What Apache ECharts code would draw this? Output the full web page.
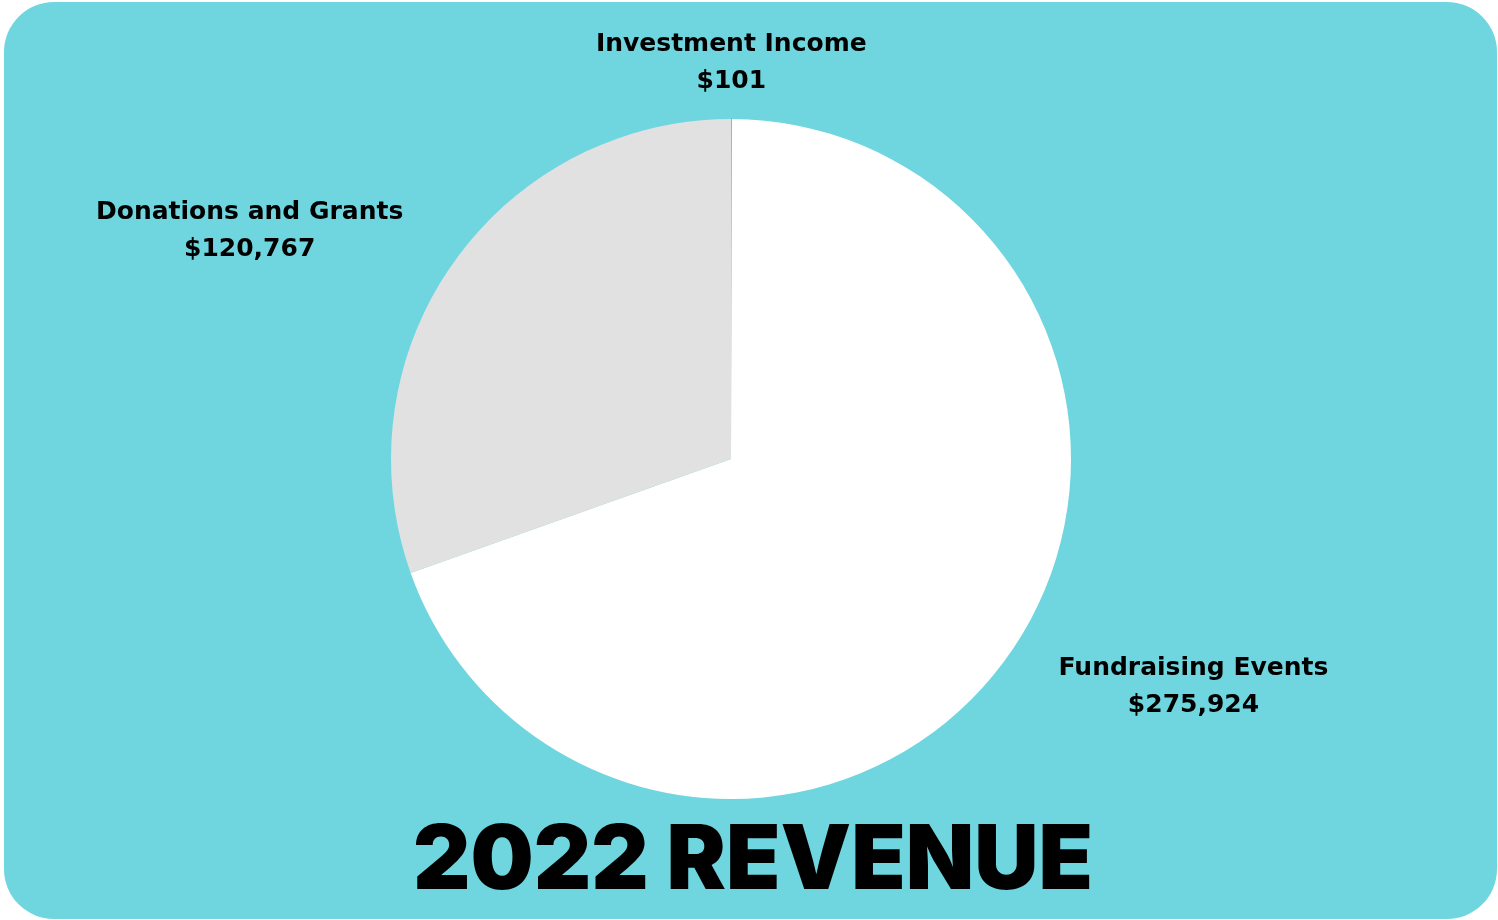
<!DOCTYPE html>
<html>
<head>
<meta charset="utf-8">
<script src="https://cdn.jsdelivr.net/npm/echarts@6/dist/echarts.min.js"></script>
<style>
html,body{margin:0;padding:0;background:#ffffff;}
#chart{width:1498px;height:920px;}
</style>
</head>
<body>
<div id="chart"></div>
<script>
const categories = ['Investment Income', 'Fundraising Events', 'Donations and Grants'];
const values = [101, 275924, 120767];
const valueLabels = ['$101', '$275,924', '$120,767'];
const sliceColors = ['#5a5a5a', '#ffffff', '#e1e1e1'];
const titleText = '2022 REVENUE';

const chart = echarts.init(document.getElementById('chart'), null, {renderer: 'canvas'});
const data = categories.map((c, i) => ({
  name: c,
  value: values[i],
  itemStyle: i === 0 ? {color: sliceColors[i], borderColor: sliceColors[i], borderWidth: 0.6} : {color: sliceColors[i]}
}));

chart.setOption({
  animation: false,
  graphic: [{
    type: 'rect', z: -10, silent: true,
    shape: {x: 4, y: 2, width: 1493, height: 917, r: 50},
    style: {fill: '#6fd6e0'}
  }],
  title: {
    text: titleText,
    left: 748, top: 813, textAlign: 'center',
    textStyle: {fontFamily: 'Inter', fontWeight: 900, fontSize: 89, color: '#000000'}
  },
  series: [{
    type: 'pie',
    center: [731, 459],
    radius: [0, 340],
    startAngle: 90,
    clockwise: true,
    data: data,
    emphasis: {disabled: true},
    label: {
      show: true,
      position: 'outside',
      alignTo: 'none',
      formatter: p => p.name + '\n' + valueLabels[p.dataIndex],
      fontFamily: 'DejaVu Sans',
      fontWeight: 'bold',
      fontSize: 25,
      lineHeight: 37,
      color: '#000000'
    },
    labelLine: {show: false, length: 55, length2: 0},
    labelLayout: function (p) {
      if (p.dataIndex === 0) {
        return {x: p.rect.x + p.rect.width / 2, y: p.rect.y - 56, align: 'center', verticalAlign: 'middle'};
      }
      const r = p.labelRect;
      return {x: r.x + r.width / 2, y: r.y + r.height / 2, align: 'center', verticalAlign: 'middle'};
    }
  }]
});
</script>
</body>
</html>
